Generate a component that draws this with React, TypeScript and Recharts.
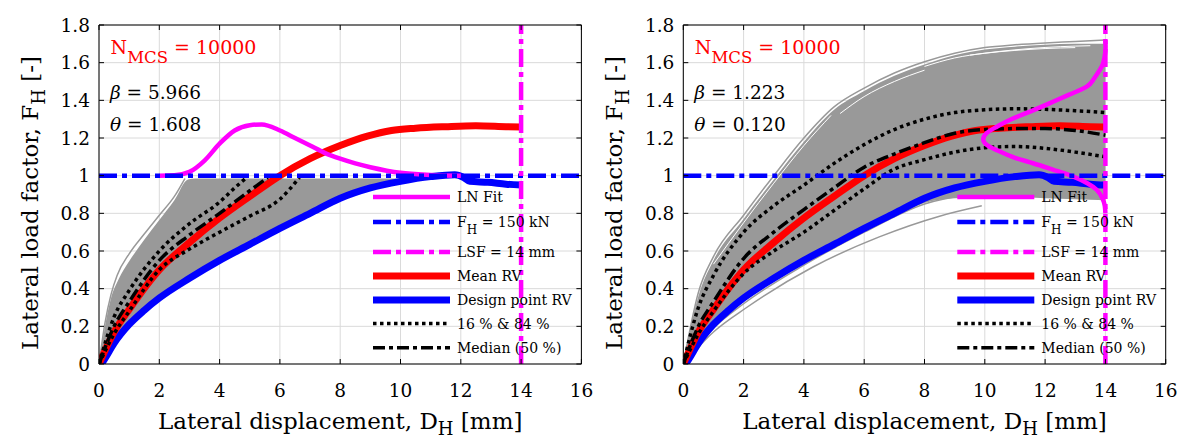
import React from 'react'
import {
  ComposedChart, Line, Area, XAxis, YAxis, CartesianGrid, ReferenceLine,
} from 'recharts'

// ---- data ----
const xTicks = [0, 2, 4, 6, 8, 10, 12, 14, 16]
const yTicks = [0, 0.2, 0.4, 0.6, 0.8, 1, 1.2, 1.4, 1.6, 1.8]

// design point RV (same in both panels)
const designX = [0.08, 0.2, 0.5, 1, 1.5, 2, 3, 4, 5, 6, 7, 8, 9, 10, 11, 11.8, 12.1, 12.3, 12.9, 13.5, 14]
const designY = [0, 0.03, 0.11, 0.21, 0.285, 0.35, 0.455, 0.55, 0.635, 0.72, 0.8, 0.88, 0.935, 0.97, 0.995, 1.005, 0.99, 0.97, 0.965, 0.955, 0.95]

// mean RV (same in both panels)
const meanX = [0, 0.5, 1, 2, 3, 4, 5, 6, 7, 8, 8.9, 9.7, 10.5, 11.5, 12.5, 13.5, 14]
const meanY = [0, 0.17, 0.29, 0.5, 0.645, 0.775, 0.89, 1.0, 1.09, 1.16, 1.21, 1.24, 1.252, 1.26, 1.265, 1.26, 1.258]

// left panel
const lBandX = [0, 0.2, 0.4, 0.65, 1, 1.5, 2, 2.5, 2.95, 3.2, 4, 5, 6, 7, 8, 9, 10, 10.6]
const lBandHi = [0, 0.2, 0.35, 0.45, 0.545, 0.66, 0.765, 0.87, 0.98, 0.985, 0.985, 0.985, 0.985, 0.985, 0.985, 0.985, 0.985, 0.985]
const lBandLo = [0, 0.04, 0.08, 0.14, 0.21, 0.285, 0.35, 0.405, 0.45, 0.475, 0.55, 0.635, 0.72, 0.8, 0.88, 0.935, 0.97, 0.985]
const lOutX = [0, 0.2, 0.4, 0.6, 1, 1.5, 2, 2.5, 2.85]
const lOutY = [0, 0.22, 0.37, 0.47, 0.585, 0.69, 0.79, 0.89, 0.985]
const lP84X = [0, 0.5, 1, 2, 3, 4, 4.5, 4.9]
const lP84Y = [0, 0.25, 0.39, 0.6, 0.745, 0.86, 0.935, 0.99]
const lP16X = [0, 0.5, 1, 2, 3, 4, 5, 6, 6.65]
const lP16Y = [0, 0.16, 0.28, 0.5, 0.61, 0.7, 0.785, 0.875, 0.99]
const lMedX = [0, 0.5, 1, 2, 3, 4, 5, 5.6]
const lMedY = [0, 0.2, 0.33, 0.55, 0.685, 0.8, 0.92, 0.99]
const lLnX = [2, 2.5, 3, 3.5, 4, 4.5, 5, 5.4, 6, 6.5, 7, 7.5, 8, 8.5, 9, 10, 11, 12]
const lLnY = [1.0, 1.002, 1.02, 1.08, 1.17, 1.24, 1.268, 1.272, 1.24, 1.2, 1.16, 1.12, 1.09, 1.065, 1.045, 1.015, 1.004, 1.0]

// right panel
const rBandX = [0, 0.25, 0.5, 1, 2, 3, 4, 5, 6, 7, 8, 9, 10, 11, 12, 13, 14]
const rBandHi = [0, 0.2, 0.36, 0.55, 0.77, 0.98, 1.18, 1.35, 1.45, 1.53, 1.59, 1.64, 1.67, 1.685, 1.695, 1.7, 1.7]
const rBandLo = [0, 0.05, 0.1, 0.19, 0.33, 0.44, 0.535, 0.62, 0.7, 0.78, 0.855, 0.88, 0.885, 0.885, 0.88, 0.875, 0.87]
const rTopX = [0, 0.5, 1, 2, 3, 4, 5, 6, 7, 8, 9, 10, 11, 12, 13, 14]
const rTopY = [0, 0.38, 0.57, 0.79, 1.0, 1.2, 1.365, 1.465, 1.545, 1.605, 1.65, 1.68, 1.695, 1.705, 1.712, 1.72]
const rLowX = [0, 1, 2.1, 4.3, 6.5, 8.5, 9.9]
const rLowY = [0, 0.17, 0.3, 0.515, 0.675, 0.785, 0.84]
const rLow2X = [0, 1, 2, 4, 6, 8, 9.5]
const rLow2Y = [0, 0.19, 0.32, 0.525, 0.7, 0.85, 0.9]
const rWhite1X = [1, 2, 3, 4, 4.9]
const rWhite1Y = [0.53, 0.75, 0.96, 1.16, 1.32]
const rWhite2X = [5.2, 6, 7, 8]
const rWhite2Y = [1.33, 1.42, 1.5, 1.56]
const rWhite3X = [8, 9, 10, 11, 12, 13]
const rWhite3Y = [1.58, 1.625, 1.65, 1.665, 1.675, 1.68]
const rWhite4X = [9.5, 10.5, 11.5, 12.5, 13.5]
const rWhite4Y = [1.64, 1.66, 1.675, 1.685, 1.69]
const rP84X = [0, 0.5, 1, 2, 3, 4, 5, 6, 7, 8, 9, 10, 11, 12, 13, 14]
const rP84Y = [0, 0.3, 0.47, 0.7, 0.84, 0.95, 1.065, 1.165, 1.245, 1.3, 1.335, 1.35, 1.355, 1.352, 1.345, 1.335]
const rP16X = [0, 0.5, 1, 2, 3, 4, 5, 6, 7, 8, 9, 10, 11, 12, 13, 14]
const rP16Y = [0, 0.16, 0.28, 0.48, 0.6, 0.7, 0.815, 0.93, 1.035, 1.085, 1.125, 1.148, 1.155, 1.145, 1.125, 1.1]
const rMedX = [0, 0.5, 1, 2, 3, 4, 5, 6, 7, 8, 9, 10, 11, 12, 13, 14]
const rMedY = [0, 0.2, 0.33, 0.56, 0.7, 0.82, 0.935, 1.045, 1.115, 1.175, 1.225, 1.245, 1.25, 1.25, 1.24, 1.215]
const rLnX = [14, 13.98, 13.9, 13.71, 13.4, 12.94, 12.3, 11.6, 11.0, 10.5, 10.1, 9.95, 10.06, 10.4, 10.84, 11.5, 12.16, 12.8, 13.38, 13.6, 13.82, 13.93, 14, 14]
const rLnY = [0.8, 0.84, 0.88, 0.925, 0.96, 0.995, 1.03, 1.066, 1.095, 1.128, 1.16, 1.19, 1.226, 1.26, 1.297, 1.34, 1.385, 1.43, 1.473, 1.51, 1.562, 1.6, 1.66, 1.72]

const legendLabels = ['LN Fit', 'F', 'LSF = 14 mm', 'Mean RV', 'Design point RV', '16 % & 84 %', 'Median (50 %)']

const pts = (xs: number[], ys: number[]) => xs.map((x, i) => ({ x, y: ys[i] }))
const band = (xs: number[], lo: number[], hi: number[]) => xs.map((x, i) => ({ x, range: [lo[i], hi[i]] }))

const FONT = 'DejaVu Serif'
const serif = { fontFamily: FONT }
const MAGENTA = '#ff00ff'
const BLUE = '#0000ff'
const RED = '#ff0000'
const GRAY = '#999999'

const TOP = 25
const PLOT_H = 339
const BOTTOM = TOP + PLOT_H

const XTick = ({ x, payload }: any) => (
  <g>
    <line x1={x} x2={x} y1={BOTTOM} y2={BOTTOM - 5} stroke="#000" />
    <line x1={x} x2={x} y1={TOP} y2={TOP + 5} stroke="#000" />
    <text x={x} y={397} textAnchor="middle" style={serif} fontSize={18.5} fill="#000">{payload.value}</text>
  </g>
)

const makeYTick = (left: number, plotW: number) => ({ y, payload }: any) => (
  <g>
    <line x1={left} x2={left + 5} y1={y} y2={y} stroke="#000" />
    <line x1={left + plotW - 5} x2={left + plotW} y1={y} y2={y} stroke="#000" />
    <text x={left - 9} y={y + 6.7} textAnchor="end" style={serif} fontSize={18.5} fill="#000">{payload.value}</text>
  </g>
)

interface Series {
  bandX: number[]; bandLo: number[]; bandHi: number[]
  grays: [number[], number[]][]
  whites: [number[], number[]][]
  p84: [number[], number[]]; p16: [number[], number[]]; med: [number[], number[]]
  ln: [number[], number[]]; lnType: 'monotone' | 'natural'
  beta: string; theta: string
}

function Panel({ left, width, plotLeft, s }: { left: number; width: number; plotLeft: number; s: Series }) {
  const plotW = 482.4
  const chartW = width + 12
  const right = chartW - plotLeft - plotW
  const legX = plotLeft + 274
  const rows = [197, 222, 252, 276, 300, 323.5, 347.7]
  const sample = (i: number) => {
    const y = rows[i]
    const x1 = legX, x2 = legX + 77
    if (i === 0) return <line x1={x1} x2={x2} y1={y} y2={y} stroke={MAGENTA} strokeWidth={4.5} />
    if (i === 1) return <line x1={x1} x2={x2} y1={y} y2={y} stroke={BLUE} strokeWidth={4.5} strokeDasharray="18 5 5 5" />
    if (i === 2) return <line x1={x1} x2={x2} y1={y} y2={y} stroke={MAGENTA} strokeWidth={4.5} strokeDasharray="18 5 5 5" />
    if (i === 3) return <line x1={x1} x2={x2} y1={y} y2={y} stroke={RED} strokeWidth={7} />
    if (i === 4) return <line x1={x1} x2={x2} y1={y} y2={y} stroke={BLUE} strokeWidth={7} />
    if (i === 5) return <line x1={x1} x2={x2 - 3} y1={y} y2={y} stroke="#000" strokeWidth={3.5} strokeDasharray="3.5 3.5" />
    return <line x1={x1} x2={x2} y1={y} y2={y} stroke="#000" strokeWidth={3.5} strokeDasharray="12 4 4 4" />
  }
  return (
    <div style={{ position: 'absolute', left, top: 0, width: chartW, height: 441, fontFamily: FONT }}>
      <ComposedChart width={chartW} height={441} margin={{ top: TOP, right, left: 0, bottom: 0 }}>
        <CartesianGrid stroke="#dadada" strokeWidth={1} />
        <XAxis
          type="number" dataKey="x" domain={[0, 16]} ticks={xTicks} allowDataOverflow
          height={77} tickLine={false} axisLine={{ stroke: '#000' }} tick={<XTick />} interval={0}
        />
        <YAxis
          type="number" domain={[0, 1.8]} ticks={yTicks} allowDataOverflow
          width={plotLeft} tickLine={false} axisLine={{ stroke: '#000' }} tick={makeYTick(plotLeft, plotW)} interval={0}
        />
        <Area
          data={band(s.bandX, s.bandLo, s.bandHi)} dataKey="range" type="monotone"
          stroke="none" fill={GRAY} fillOpacity={1} isAnimationActive={false} dot={false} activeDot={false}
        />
        {s.grays.map(([xs, ys], i) => (
          <Line key={'g' + i} data={pts(xs, ys)} dataKey="y" type="monotone" stroke={GRAY} strokeWidth={1.5}
            dot={false} activeDot={false} isAnimationActive={false} />
        ))}
        {s.whites.map(([xs, ys], i) => (
          <Line key={'w' + i} data={pts(xs, ys)} dataKey="y" type="monotone" stroke="#ffffff" strokeWidth={1}
            dot={false} activeDot={false} isAnimationActive={false} />
        ))}
        <Line data={pts(designX, designY)} dataKey="y" type="monotone" stroke={BLUE} strokeWidth={7}
          dot={false} activeDot={false} isAnimationActive={false} />
        <Line data={pts(meanX, meanY)} dataKey="y" type="monotone" stroke={RED} strokeWidth={7}
          dot={false} activeDot={false} isAnimationActive={false} />
        <Line data={pts(s.p84[0], s.p84[1])} dataKey="y" type="monotone" stroke="#000" strokeWidth={3.5}
          strokeDasharray="3.5 3.5" dot={false} activeDot={false} isAnimationActive={false} />
        <Line data={pts(s.p16[0], s.p16[1])} dataKey="y" type="monotone" stroke="#000" strokeWidth={3.5}
          strokeDasharray="3.5 3.5" dot={false} activeDot={false} isAnimationActive={false} />
        <Line data={pts(s.med[0], s.med[1])} dataKey="y" type="monotone" stroke="#000" strokeWidth={3.5}
          strokeDasharray="12 4 4 4" dot={false} activeDot={false} isAnimationActive={false} />
        <Line data={pts(s.ln[0], s.ln[1])} dataKey="y" type={s.lnType} stroke={MAGENTA} strokeWidth={4.5}
          dot={false} activeDot={false} isAnimationActive={false} />
        <ReferenceLine y={1} stroke={BLUE} strokeWidth={4.5} strokeDasharray="18 5 5 5" />
        <ReferenceLine x={14} stroke={MAGENTA} strokeWidth={4.5} strokeDasharray="18 5 5 5" />
        <ReferenceLine y={1.8} stroke="#000" strokeWidth={1} />
        <ReferenceLine x={16} stroke="#000" strokeWidth={1} />
      </ComposedChart>
      <svg width={chartW} height={441} style={{ position: 'absolute', left: 0, top: 0, pointerEvents: 'none', fontFamily: FONT }}>
        <text x={plotLeft + 11.5} y={54} fontSize={19} fill={RED} style={serif}>
          N<tspan fontSize={16.5} dy={9}>MCS</tspan><tspan dy={-9} fontSize={19}> = 10000</tspan>
        </text>
        <text x={plotLeft + 11} y={99} fontSize={18.5} fill="#000" style={serif}>
          <tspan fontStyle="italic">β</tspan> = {s.beta}
        </text>
        <text x={plotLeft + 11} y={131} fontSize={18.5} fill="#000" style={serif}>
          <tspan fontStyle="italic">θ</tspan> = {s.theta}
        </text>
        {legendLabels.map((lab, i) => (
          <g key={lab}>
            {sample(i)}
            {i === 1 ? (
              <text x={legX + 84} y={rows[i] + 5} fontSize={14} fill="#000" style={serif}>
                F<tspan fontSize={12} dy={7}>H</tspan><tspan dy={-7} fontSize={14}> = 150 kN</tspan>
              </text>
            ) : (
              <text x={legX + 84} y={rows[i] + 5} fontSize={14} fill="#000" style={serif}>{lab}</text>
            )}
          </g>
        ))}
        <text x={plotLeft + plotW / 2} y={429} textAnchor="middle" fontSize={23} fill="#000" style={serif}>
          Lateral displacement, D<tspan fontSize={18} dy={6}>H</tspan><tspan dy={-6} fontSize={23}> [mm]</tspan>
        </text>
        <text transform={`translate(${plotLeft - 61}, 203) rotate(-90)`} textAnchor="middle"
          fontSize={23} fill="#000" style={serif}>
          Lateral load factor, F<tspan fontSize={18} dy={7}>H</tspan><tspan dy={-7} fontSize={23}> [-]</tspan>
        </text>
      </svg>
    </div>
  )
}

const leftSeries: Series = {
  bandX: lBandX, bandLo: lBandLo, bandHi: lBandHi,
  grays: [[lOutX, lOutY]],
  whites: [],
  p84: [lP84X, lP84Y], p16: [lP16X, lP16Y], med: [lMedX, lMedY],
  ln: [lLnX, lLnY], lnType: 'monotone',
  beta: '5.966', theta: '1.608',
}

const rightSeries: Series = {
  bandX: rBandX, bandLo: rBandLo, bandHi: rBandHi,
  grays: [[rTopX, rTopY], [rLowX, rLowY], [rLow2X, rLow2Y]],
  whites: [[rWhite1X, rWhite1Y], [rWhite2X, rWhite2Y], [rWhite3X, rWhite3Y], [rWhite4X, rWhite4Y]],
  p84: [rP84X, rP84Y], p16: [rP16X, rP16Y], med: [rMedX, rMedY],
  ln: [rLnX, rLnY], lnType: 'natural',
  beta: '1.223', theta: '0.120',
}

export default function App() {
  return (
    <div style={{ position: 'absolute', left: 0, top: 0, width: 1183, height: 441, background: '#fff', overflow: 'hidden' }}>
      <Panel left={0} width={590} plotLeft={99} s={leftSeries} />
      <Panel left={584} width={599} plotLeft={99.3} s={rightSeries} />
    </div>
  )
}
